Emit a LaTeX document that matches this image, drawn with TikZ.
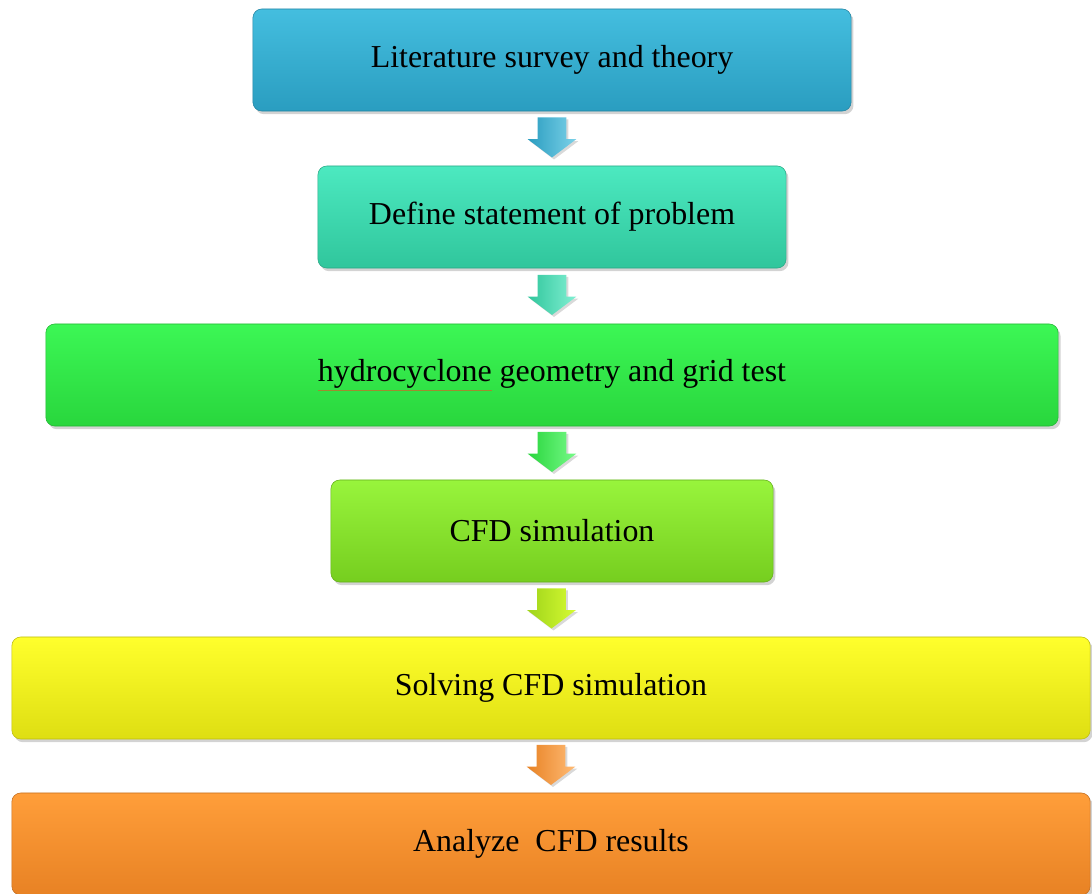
\documentclass[tikz,border=0pt]{standalone}
\usepackage{fontspec}
\setmainfont{Liberation Serif}
\usepackage{tikz}
\usetikzlibrary{shapes.arrows, shadows}
\definecolor{litTop}{HTML}{44BEDF}
\definecolor{litBot}{HTML}{2A9DC0}
\definecolor{defTop}{HTML}{4CE9C0}
\definecolor{defBot}{HTML}{30C69C}
\definecolor{geoTop}{HTML}{3CF755}
\definecolor{geoBot}{HTML}{29D63D}
\definecolor{cfdTop}{HTML}{98F43C}
\definecolor{cfdBot}{HTML}{76CE1F}
\definecolor{solTop}{HTML}{FFFF2C}
\definecolor{solBot}{HTML}{DEDE12}
\definecolor{anaTop}{HTML}{FF9E3A}
\definecolor{anaBot}{HTML}{E88224}
\definecolor{spellOlive}{HTML}{A08A30}
\newcommand{\spellmark}[1]{\textcolor{spellOlive}{\underline{\textcolor{black}{#1}}}}
\tikzset{
    stage/.style={rectangle, rounded corners=0.22cm, align=center, minimum height=2.55cm,
        font=\fontsize{22.7}{26}\selectfont, inner sep=0pt,
        drop shadow={shadow xshift=0.06cm, shadow yshift=-0.08cm, opacity=0.35}},
    downarrow/.style={single arrow, yshift=0.16cm, rotate=-90, minimum height=1cm,
        single arrow head extend=0.25cm, single arrow tip angle=106, inner xsep=0pt, inner ysep=0.35cm,
        drop shadow={shadow xshift=0.05cm, shadow yshift=-0.05cm, opacity=0.3}}
}
\begin{document}
\begin{tikzpicture}[x=0.025cm, y=-0.025cm]
    \useasboundingbox (0,0) rectangle (1092,894);

    % Stages
    \node[stage, minimum width=14.95cm, top color=litTop, bottom color=litBot, draw=litBot!85!black] (lit) at (552,60) {Literature survey and theory};
    \node[stage, minimum width=11.7cm, top color=defTop, bottom color=defBot, draw=defBot!85!black] (define) at (552,217) {Define statement of problem};
    \node[stage, minimum width=25.3cm, top color=geoTop, bottom color=geoBot, draw=geoBot!85!black] (geom) at (552,375) {\spellmark{hydrocyclone} geometry and grid test};
    \node[stage, minimum width=11.05cm, top color=cfdTop, bottom color=cfdBot, draw=cfdBot!85!black] (cfd) at (552,531) {CFD simulation};
    \node[stage, minimum width=26.95cm, top color=solTop, bottom color=solBot, draw=solBot!85!black] (solve) at (551,688) {Solving CFD simulation};
    \node[stage, minimum width=26.95cm, top color=anaTop, bottom color=anaBot, draw=anaBot!85!black] (analyze) at (551,844) {Analyze\ \ CFD results};

    % Arrows between stages
    \path (lit.south) -- (define.north) node[midway, downarrow, left color=litBot, right color=litTop!70!white] (a1) {};
    \path (define.south) -- (geom.north) node[midway, downarrow, left color=defBot, right color=defTop!70!white] (a2) {};
    \path (geom.south) -- (cfd.north) node[midway, downarrow, left color=geoBot, right color=geoTop!70!white] (a3) {};
    \path (cfd.south) -- (solve.north) node[midway, downarrow, left color=cfdBot!60!solBot, right color=solTop!60!cfdTop] (a4) {};
    \path (solve.south) -- (analyze.north) node[midway, downarrow, left color=anaBot, right color=anaTop!70!white] (a5) {};

\end{tikzpicture}
\end{document}
